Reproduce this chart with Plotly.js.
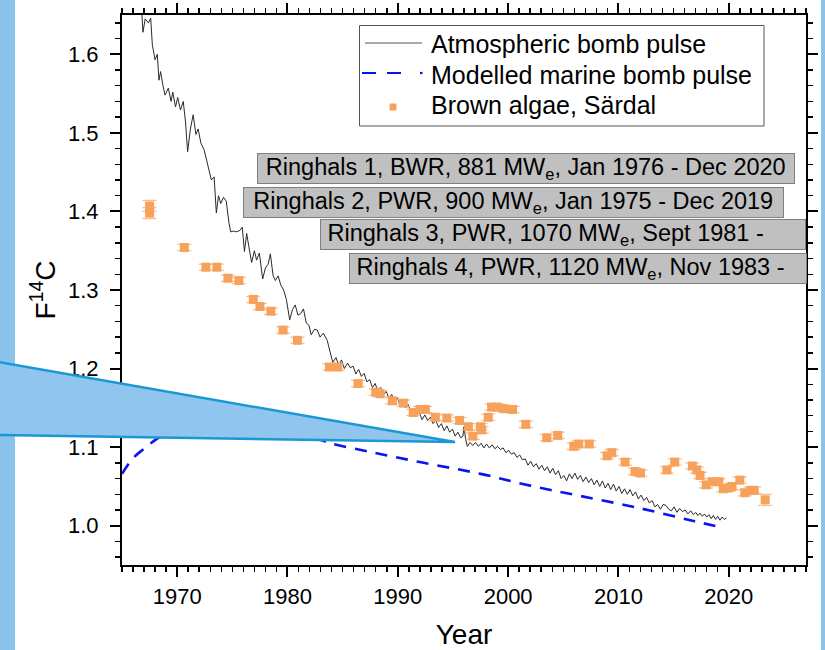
<!DOCTYPE html>
<html>
<head>
<meta charset="utf-8">
<script src="https://cdn.plot.ly/plotly-3.0.1.min.js"></script>
<style>html,body{margin:0;padding:0;background:#fff;}#chart{width:825px;height:650px;}</style>
</head>
<body>
<div id="chart"></div>
<script>
// Atmospheric bomb pulse
const atmYear = [1966.6,1966.8,1966.9,1967.1,1967.4,1967.6,1967.75,1968.0,1968.2,1968.35,1968.5,1968.7,1968.9,1969.2,1969.45,1969.6,1969.85,1970.05,1970.3,1970.55,1970.75,1970.95,1971.2,1971.45,1971.7,1971.9,1972.15,1972.45,1972.7,1972.95,1973.1,1973.35,1973.55,1973.75,1973.95,1974.2,1974.45,1974.7,1974.85,1975.1,1975.4,1975.7,1975.9,1976.1,1976.3,1976.5,1976.75,1977.0,1977.2,1977.45,1977.75,1978.0,1978.25,1978.45,1978.7,1978.9,1979.15,1979.4,1979.65,1979.9,1980.2,1980.45,1980.7,1980.95,1981.2,1981.45,1981.7,1981.95,1982.15,1982.45,1982.7,1982.95,1983.25,1983.6,1983.85,1984.1,1984.4,1984.65,1984.9,1985.15,1985.45,1985.7,1985.95,1986.2,1986.45,1986.7,1986.95,1987.2,1987.45,1987.7,1987.95,1988.2,1988.45,1988.7,1988.95,1989.2,1989.45,1989.7,1989.95,1990.2,1990.45,1990.7,1990.95,1991.2,1991.45,1991.7,1991.95,1992.2,1992.45,1992.7,1992.95,1993.2,1993.45,1993.7,1993.95,1994.2,1994.45,1994.7,1994.95,1995.2,1995.45,1995.7,1995.9,1996.0,1996.15,1996.3,1996.55,1996.8,1997.05,1997.3,1997.55,1997.8,1998.05,1998.3,1998.55,1998.8,1999.05,1999.3,1999.55,1999.8,2000.05,2000.3,2000.55,2000.8,2001.05,2001.3,2001.55,2001.8,2002.05,2002.3,2002.55,2002.8,2003.05,2003.3,2003.55,2003.8,2004.05,2004.3,2004.55,2004.8,2005.05,2005.3,2005.55,2005.8,2006.05,2006.3,2006.55,2006.8,2007.05,2007.3,2007.55,2007.8,2008.05,2008.3,2008.55,2008.8,2009.05,2009.3,2009.55,2009.8,2010.05,2010.3,2010.55,2010.8,2011.05,2011.3,2011.55,2011.8,2012.05,2012.3,2012.55,2012.8,2013.05,2013.3,2013.55,2013.8,2014.05,2014.3,2014.55,2014.8,2015.05,2015.3,2015.55,2015.8,2016.05,2016.3,2016.55,2016.8,2017.0,2017.2,2017.4,2017.6,2017.8,2018.0,2018.2,2018.4,2018.6,2018.8,2019.0,2019.2,2019.4,2019.6,2019.8];
const atmF14C = [1.70,1.66,1.628,1.645,1.640,1.646,1.612,1.593,1.600,1.567,1.578,1.561,1.548,1.557,1.540,1.552,1.533,1.545,1.529,1.540,1.515,1.476,1.505,1.523,1.498,1.505,1.487,1.478,1.462,1.450,1.440,1.444,1.398,1.420,1.410,1.418,1.413,1.385,1.374,1.375,1.374,1.376,1.380,1.349,1.372,1.355,1.335,1.350,1.338,1.347,1.314,1.328,1.333,1.346,1.318,1.312,1.318,1.306,1.300,1.288,1.262,1.275,1.281,1.268,1.270,1.276,1.258,1.255,1.243,1.250,1.249,1.240,1.245,1.236,1.222,1.208,1.214,1.204,1.211,1.200,1.207,1.201,1.203,1.193,1.199,1.190,1.194,1.183,1.186,1.176,1.181,1.171,1.176,1.167,1.171,1.162,1.167,1.158,1.163,1.154,1.159,1.150,1.154,1.143,1.148,1.141,1.144,1.135,1.141,1.134,1.138,1.130,1.134,1.125,1.130,1.121,1.127,1.119,1.123,1.114,1.119,1.112,1.114,1.126,1.110,1.101,1.106,1.102,1.106,1.101,1.105,1.099,1.104,1.099,1.103,1.098,1.101,1.097,1.099,1.093,1.096,1.091,1.093,1.087,1.090,1.084,1.085,1.077,1.082,1.075,1.079,1.072,1.077,1.070,1.075,1.067,1.073,1.065,1.070,1.060,1.064,1.057,1.066,1.060,1.067,1.059,1.064,1.056,1.062,1.055,1.060,1.052,1.058,1.050,1.057,1.048,1.054,1.046,1.053,1.044,1.050,1.041,1.047,1.040,1.046,1.038,1.043,1.034,1.039,1.032,1.036,1.029,1.032,1.024,1.027,1.021,1.027,1.026,1.021,1.019,1.024,1.017,1.022,1.018,1.020,1.015,1.019,1.014,1.017,1.013,1.016,1.012,1.015,1.011,1.014,1.009,1.013,1.008,1.012,1.007,1.011,1.008,1.010];

// Modelled marine bomb pulse
const marYear = [1965,1966,1967,1968,1969,1970,1972,1975,1978,1980,1982,1983,1984,1987.5,1992,1997.5,2002,2006.5,2011.7,2016.8,2019.6];
const marF14C = [1.066,1.086,1.098,1.109,1.117,1.121,1.124,1.124,1.121,1.117,1.112,1.109,1.1045,1.094,1.081,1.066,1.051,1.038,1.023,1.006,0.997];

// Brown algae, Särdal
const algYear = [1967.5,1967.5,1970.65,1972.6,1973.6,1974.6,1975.6,1976.9,1977.5,1978.5,1979.6,1980.9,1983.8,1984.55,1986.4,1988.0,1988.4,1989.5,1990.5,1991.4,1992.0,1992.5,1993.4,1994.45,1995.6,1996.4,1996.8,1997.5,1997.6,1998.2,1998.5,1999.0,1999.6,2000.4,2001.6,2003.5,2004.5,2005.95,2006.4,2007.35,2008.97,2009.4,2010.6,2011.5,2012.0,2014.4,2015.1,2016.7,2017.1,2017.4,2017.95,2018.5,2019.1,2019.5,2020.0,2020.3,2021.0,2021.45,2022.0,2022.3,2023.3];
const algF14C = [1.407,1.398,1.354,1.329,1.329,1.315,1.312,1.288,1.279,1.273,1.249,1.236,1.202,1.202,1.181,1.170,1.168,1.159,1.156,1.144,1.148,1.148,1.138,1.137,1.134,1.126,1.114,1.126,1.122,1.138,1.151,1.151,1.149,1.148,1.129,1.112,1.115,1.101,1.104,1.104,1.089,1.093,1.081,1.069,1.067,1.071,1.081,1.076,1.071,1.064,1.052,1.056,1.056,1.047,1.048,1.050,1.058,1.042,1.045,1.045,1.033];
const algErr = [0.007,0.007,0.004,0.004,0.004,0.004,0.004,0.004,0.004,0.004,0.004,0.004,0.004,0.004,0.004,0.004,0.004,0.004,0.004,0.004,0.004,0.004,0.004,0.004,0.004,0.004,0.004,0.004,0.004,0.004,0.004,0.004,0.004,0.004,0.004,0.004,0.004,0.004,0.004,0.004,0.004,0.004,0.004,0.004,0.004,0.004,0.004,0.004,0.004,0.004,0.004,0.004,0.004,0.004,0.004,0.004,0.004,0.004,0.004,0.004,0.007];

const seriesNames = ['Atmospheric bomb pulse','Modelled marine bomb pulse','Brown algae, Särdal'];
const reactorLabels = [
  'Ringhals 1, BWR, 881 MW<sub>e</sub>, Jan 1976 - Dec 2020',
  'Ringhals 2, PWR, 900 MW<sub>e</sub>, Jan 1975 - Dec 2019',
  '\u00a0Ringhals 3, PWR, 1070 MW<sub>e</sub>, Sept 1981 -',
  '\u00a0Ringhals 4, PWR, 1120 MW<sub>e</sub>, Nov 1983 -'
];

const FONT = 'Arial, "Liberation Sans", sans-serif';
// plot area in px
const PL = 122, PR = 806, PT = 15, PB = 565;
const px = v => (v - PL) / (PR - PL);
const py = v => (PB - v) / (PB - PT);

const boxes = [ // left, right, top (px)
  [256.5, 794, 153, 'center'],
  [242.5, 783, 187, 'center'],
  [320, 806, 219, 'left'],
  [348.5, 806, 253, 'left']
];

const annotations = reactorLabels.map((t, i) => ({
  text: t, xref: 'paper', yref: 'paper',
  x: px(boxes[i][0]), y: py(boxes[i][2]), xanchor: 'left', yanchor: 'top',
  width: boxes[i][1] - boxes[i][0] - 2, align: boxes[i][3],
  showarrow: false, bgcolor: '#c0c0c0', bordercolor: '#7f7f7f', borderwidth: 1, borderpad: 0,
  font: {family: FONT, size: 23.5, color: '#000'}
}));

// legend drawn by hand (box, symbols, texts)
const legRows = [44, 75, 105];
seriesNames.forEach((n, i) => annotations.push({
  text: n, xref: 'paper', yref: 'paper', x: px(430), y: py(legRows[i]),
  xanchor: 'left', yanchor: 'middle', showarrow: false, borderpad: 0,
  font: {family: FONT, size: 25, color: '#000'}
}));

const traces = [
  {x: atmYear, y: atmF14C, name: seriesNames[0], type: 'scatter', mode: 'lines',
   line: {color: '#2a2a2a', width: 1}},
  {x: marYear, y: marF14C, name: seriesNames[1], type: 'scatter', mode: 'lines',
   line: {color: '#0a14f0', width: 2.6, dash: '12px,9px', shape: 'spline'}},
  {x: algYear, y: algF14C, name: seriesNames[2], type: 'scatter', mode: 'markers',
   marker: {symbol: 'square', size: 9, color: '#f7a25c'},
   error_y: {type: 'data', array: algErr, visible: true, color: '#f8bf90', thickness: 1.3, width: 7}}
];

const blue = '#8cc3ec';
const shapes = [
  {type: 'rect', xref: 'paper', yref: 'paper', x0: px(0), x1: px(15), y0: py(650), y1: py(0),
   fillcolor: blue, line: {width: 0}, layer: 'above'},
  {type: 'rect', xref: 'paper', yref: 'paper', x0: px(821), x1: px(826), y0: py(650), y1: py(0),
   fillcolor: blue, line: {width: 0}, layer: 'above'},
  {type: 'path', xref: 'paper', yref: 'paper',
   path: 'M' + px(-2) + ',' + py(362) + ' L' + px(455) + ',' + py(442) + ' L' + px(-2) + ',' + py(435) + ' Z',
   fillcolor: '#90c5ed', line: {color: '#1a98d6', width: 2.5}, layer: 'above'},
  // legend box and symbols
  {type: 'rect', xref: 'paper', yref: 'paper', x0: px(359.5), x1: px(764), y0: py(126), y1: py(25.5),
   fillcolor: '#fff', line: {color: '#555', width: 1}, layer: 'above'},
  {type: 'line', xref: 'paper', yref: 'paper', x0: px(365), x1: px(422), y0: py(43), y1: py(43),
   line: {color: '#555', width: 1}, layer: 'above'},
  {type: 'line', xref: 'paper', yref: 'paper', x0: px(362), x1: px(401), y0: py(73), y1: py(73),
   line: {color: '#0a14f0', width: 2.2, dash: '14px,11px'}, layer: 'above'},
  {type: 'line', xref: 'paper', yref: 'paper', x0: px(420), x1: px(422.5), y0: py(73), y1: py(73),
   line: {color: '#0a14f0', width: 2.2}, layer: 'above'},
  {type: 'rect', xref: 'paper', yref: 'paper', x0: px(389.5), x1: px(396.5), y0: py(110.5), y1: py(103.5),
   fillcolor: '#f7a25c', line: {width: 0}, layer: 'above'}
];

const axisCommon = {
  showline: true, linecolor: '#000', linewidth: 2, mirror: 'ticks',
  ticks: 'outside', ticklen: 10, tickwidth: 2, tickcolor: '#000',
  showgrid: false, zeroline: false,
  tickfont: {family: FONT, size: 22, color: '#000'}
};

const layout = {
  width: 825, height: 650,
  margin: {l: PL, r: 825 - PR, t: PT, b: 650 - PB, autoexpand: false},
  paper_bgcolor: '#fff', plot_bgcolor: '#fff',
  showlegend: false,
  xaxis: Object.assign({}, axisCommon, {
    range: [1965, 2027], tick0: 1970, dtick: 10, ticklabelstandoff: 1,
    minor: {ticks: 'outside', ticklen: 5, tickwidth: 1.5, tickcolor: '#000', dtick: 1, tick0: 1965},
    title: {text: 'Year', font: {family: FONT, size: 28, color: '#000'}, standoff: 16},
    automargin: false
  }),
  yaxis: Object.assign({}, axisCommon, {
    range: [0.95, 1.65], tick0: 1.0, dtick: 0.1, tickformat: '.1f', ticklabelstandoff: 7,
    minor: {ticks: 'outside', ticklen: 5, tickwidth: 1.5, tickcolor: '#000', dtick: 0.02, tick0: 1.0},
    title: {text: 'F<sup>14</sup>C', font: {family: FONT, size: 28, color: '#000'}, standoff: 4},
    automargin: false
  }),
  annotations: annotations,
  shapes: shapes
};

Plotly.newPlot('chart', traces, layout, {staticPlot: true, displayModeBar: false});
</script>
</body>
</html>
